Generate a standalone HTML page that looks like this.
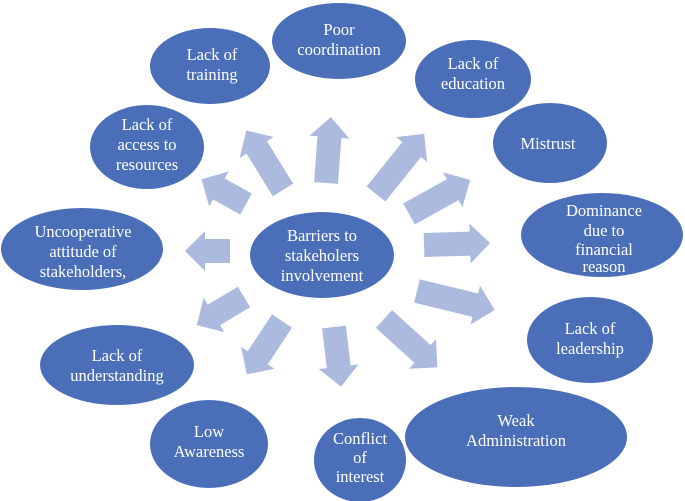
<!DOCTYPE html>
<html><head><meta charset="utf-8"><style>
html,body{margin:0;padding:0;background:#fff;}
svg{display:block;font-family:"Liberation Serif","DejaVu Serif",serif;}
text{font-family:"Liberation Serif","DejaVu Serif",serif;font-size:16.5px;fill:#fff;text-anchor:middle;}
</style></head><body>
<svg width="685" height="501" viewBox="0 0 685 501" xmlns="http://www.w3.org/2000/svg" font-family="Liberation Serif, serif">
<g fill="#adbadf">
<polygon transform="translate(283,190) rotate(-121.7)" points="0,-12 50,-12 50,-20 70,0 50,20 50,12 0,12"/>
<polygon transform="translate(326,183) rotate(-85.7)" points="0,-12 46,-12 46,-20 66,0 46,20 46,12 0,12"/>
<polygon transform="translate(376,194) rotate(-51.3)" points="0,-12 57,-12 57,-20 77,0 57,20 57,12 0,12"/>
<polygon transform="translate(409,214) rotate(-29.1)" points="0,-12 50,-12 50,-20 70,0 50,20 50,12 0,12"/>
<polygon transform="translate(424,245) rotate(-1.7)" points="0,-12 46,-12 46,-20 66,0 46,20 46,12 0,12"/>
<polygon transform="translate(417,291) rotate(13.7)" points="0,-12 60,-12 60,-20 80,0 60,20 60,12 0,12"/>
<polygon transform="translate(384,319) rotate(42.2)" points="0,-12 52,-12 52,-20 72,0 52,20 52,12 0,12"/>
<polygon transform="translate(334,327) rotate(83.3)" points="0,-12 40,-12 40,-20 60,0 40,20 40,12 0,12"/>
<polygon transform="translate(282,321) rotate(123.4)" points="0,-12 44,-12 44,-20 64,0 44,20 44,12 0,12"/>
<polygon transform="translate(244,297) rotate(149.2)" points="0,-12 35,-12 35,-20 55,0 35,20 35,12 0,12"/>
<polygon transform="translate(230,251) rotate(180)" points="0,-12 25,-12 25,-20 45,0 25,20 25,12 0,12"/>
<polygon transform="translate(246,204) rotate(-150.9)" points="0,-12 31,-12 31,-20 51,0 31,20 31,12 0,12"/>
</g>
<g fill="#4a6fb8">
<ellipse cx="322" cy="255" rx="72" ry="43"/>
<ellipse cx="210" cy="66" rx="60" ry="38"/>
<ellipse cx="339" cy="41" rx="67" ry="38"/>
<ellipse cx="473" cy="79" rx="58" ry="39"/>
<ellipse cx="550" cy="143" rx="57" ry="40"/>
<ellipse cx="602" cy="235" rx="81" ry="42"/>
<ellipse cx="590" cy="340" rx="63" ry="43"/>
<ellipse cx="516" cy="437" rx="111" ry="50"/>
<ellipse cx="360" cy="460" rx="46" ry="42"/>
<ellipse cx="209" cy="444" rx="59" ry="44"/>
<ellipse cx="117" cy="365" rx="77" ry="40"/>
<ellipse cx="82" cy="249" rx="81" ry="41"/>
<ellipse cx="147" cy="147" rx="57" ry="42"/>
</g>
<g font-family="Liberation Serif, serif">
<text x="322" y="241">Barriers to</text>
<text x="322" y="261">stakeholers</text>
<text x="322" y="281">involvement</text>
<text x="212" y="60">Lack of</text>
<text x="212" y="80">training</text>
<text x="339" y="35">Poor</text>
<text x="339" y="55">coordination</text>
<text x="473" y="69">Lack of</text>
<text x="473" y="89">education</text>
<text x="548" y="149">Mistrust</text>
<text x="604" y="216">Dominance</text>
<text x="604" y="236">due to</text>
<text x="604" y="255">financial</text>
<text x="604" y="272">reason</text>
<text x="590" y="334">Lack of</text>
<text x="590" y="354">leadership</text>
<text x="516" y="426">Weak</text>
<text x="516" y="446">Administration</text>
<text x="360" y="444">Conflict</text>
<text x="360" y="463">of</text>
<text x="360" y="482">interest</text>
<text x="209" y="437">Low</text>
<text x="209" y="457">Awareness</text>
<text x="117" y="361">Lack of</text>
<text x="117" y="381">understanding</text>
<text x="83" y="237">Uncooperative</text>
<text x="83" y="257">attitude of</text>
<text x="83" y="277">stakeholders,</text>
<text x="147" y="130">Lack of</text>
<text x="147" y="150">access to</text>
<text x="147" y="170">resources</text>
</g>
</svg>
</body></html>
